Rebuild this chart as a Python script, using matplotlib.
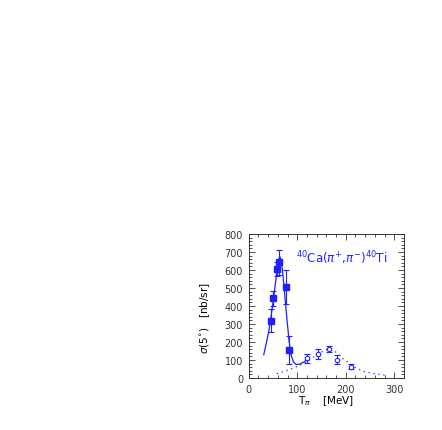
import numpy as np
from matplotlib import pyplot as plt
from matplotlib.ticker import MultipleLocator

# filled squares: low-energy data
T_low = [45, 50.5, 57.5, 63, 76, 84]
sig_low = [318, 442, 605, 642, 507, 157]
err_low = [65, 42, 40, 70, 95, 77]

# open circles: high-energy data
T_high = [121, 142, 165.5, 181, 211]
sig_high = [110, 134, 161, 101, 64]
err_high = [25, 30, 16, 25, 16]

# solid curve (low-energy resonance)
T_solid = [31, 36, 42, 47, 52, 57, 61, 64, 67, 71, 75, 79, 83, 87, 92, 98, 105, 113, 121]
sig_solid = [130, 190, 270, 360, 460, 570, 650, 675, 655, 560, 440, 320, 210, 130, 90, 75, 77, 88, 104]

# dotted curve
T_dot = [58, 78, 99, 120, 143, 155, 165, 177, 195, 219, 236, 257, 283]
sig_dot = [24, 41, 63, 91, 133, 152, 163, 150, 105, 59, 37, 25, 15]

blue = '#2020ff'

fig = plt.figure(figsize=(4.42, 4.31), dpi=100)
ax = fig.add_axes([0.5627, 0.1206, 0.3514, 0.3341])

ax.plot(T_solid, sig_solid, color=blue, lw=0.9)
ax.plot(T_dot, sig_dot, color=blue, lw=0.9, linestyle=(0, (1, 3)))

ax.errorbar(T_low, sig_low, yerr=err_low, fmt='s', color=blue, ms=4.2,
            elinewidth=0.8, capsize=2, capthick=0.8)
ax.errorbar(T_high, sig_high, yerr=err_high, fmt='o', color=blue, mfc='white',
            ms=3.2, mew=0.8, elinewidth=0.8, capsize=2, capthick=0.8)

ax.text(97, 672, r'$^{40}$Ca($\pi^{+}$,$\pi^{-}$)$^{40}$Ti', color=blue,
        fontsize=8.5, va='center')

ax.set_xlim(0, 320)
ax.set_ylim(0, 800)
ax.xaxis.set_major_locator(MultipleLocator(100))
ax.xaxis.set_minor_locator(MultipleLocator(20))
ax.yaxis.set_major_locator(MultipleLocator(100))
ax.yaxis.set_minor_locator(MultipleLocator(20))
ax.tick_params(which='both', direction='in', top=True, right=True,
               labelsize=7, width=0.6, colors='#333333', pad=4)
ax.tick_params(which='major', length=4)
ax.tick_params(which='minor', length=2)
for s in ax.spines.values():
    s.set_linewidth(0.7)
    s.set_color('#333333')

ax.set_xlabel(r'T$_{\pi}$    [MeV]', fontsize=7.5, labelpad=0)
ax.set_ylabel(r'$\sigma$(5$^{\circ}$)   [nb/sr]', fontsize=7.5)
ax.yaxis.set_label_coords(-0.235, 0.42)

plt.savefig('out.png', dpi=100)
